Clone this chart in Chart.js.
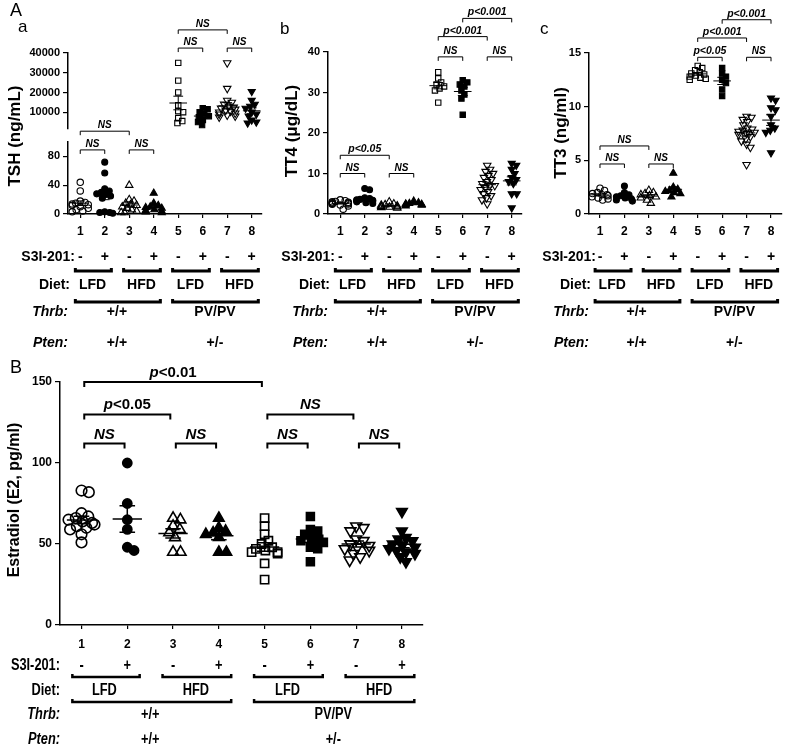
<!DOCTYPE html>
<html>
<head>
<meta charset="utf-8">
<script src="https://cdn.jsdelivr.net/npm/chart.js@4/dist/chart.umd.min.js"></script>
<style>
  body { margin: 0; background: #fff; }
  #fig { position: relative; width: 790px; height: 752px; }
  canvas { position: absolute; }
</style>
</head>
<body>
<div id="fig">
  <canvas id="aBottom" width="270" height="360" style="left:0;top:0"></canvas>
  <canvas id="aTop" width="270" height="140" style="left:0;top:0"></canvas>
  <canvas id="b" width="270" height="360" style="left:260px;top:0"></canvas>
  <canvas id="c" width="270" height="360" style="left:520px;top:0"></canvas>
  <canvas id="B" width="440" height="392" style="left:0;top:360px"></canvas>
</div>
<script>
// ---- data ----
const groups = ['1', '2', '3', '4', '5', '6', '7', '8'];
const s3i = ['-', '+', '-', '+', '-', '+', '-', '+'];
const dietLabels = ['LFD', 'HFD', 'LFD', 'HFD'];
const thrbLabels = ['+/+', 'PV/PV'];
const ptenLabels = ['+/+', '+/-'];

// TSH (ng/mL), groups 1-8
const tsh1 = [44, 32, 18, 16, 15, 14, 13, 12, 10, 8, 6, 4, 3];
const tsh2 = [72, 57, 35, 32, 30, 28, 27, 25, 22, 3, 2, 2, 1];
const tsh3 = [40, 20, 18, 15, 13, 12, 10, 8, 6, 4, 2, 2];
const tsh4 = [29, 15, 12, 10, 9, 8, 6, 5, 4, 3, 2];
const tsh5 = [35000, 26000, 20000, 13500, 10500, 10000, 7000, 5500, 4500];
const tsh6 = [12000, 11500, 10000, 9000, 8000, 7500, 6000, 5000, 3500];
const tsh7 = [35000, 22000, 16000, 15000, 14000, 13000, 12500, 12000, 11500, 11000, 10500, 10000, 9500, 9000, 8500, 8000, 7500];
const tsh8 = [20500, 16000, 14000, 13000, 12000, 10000, 9000, 8000, 6000, 5000, 4500];

// TT4 (ug/dL)
const tt4_1 = [3.5, 3.3, 3.1, 3.0, 2.9, 2.8, 2.7, 2.6, 2.5, 2.4, 2.2, 2.0, 1.2];
const tt4_2 = [6.3, 6.0, 4.0, 3.8, 3.6, 3.5, 3.4, 3.3, 3.2, 3.0, 2.8, 2.6];
const tt4_3 = [3.0, 2.5, 2.3, 2.2, 2.0, 1.9, 1.8, 1.7, 1.6, 1.5];
const tt4_4 = [3.2, 2.8, 2.6, 2.5, 2.4, 2.3, 2.2, 2.0];
const tt4_5 = [35, 33.5, 32.5, 32, 31.5, 31, 30.5, 27.5];
const tt4_6 = [33, 32.5, 32, 31.5, 30.5, 29.5, 28.5, 24.5];
const tt4_7 = [12, 11, 10.5, 10, 9.5, 9, 8.5, 8, 7.5, 7, 7, 6.5, 6, 5.5, 5, 4.5, 4, 3.5, 2.5];
const tt4_8 = [12.5, 12, 11, 10, 9, 8.5, 8, 7.5, 5, 5, 1.5];

// TT3 (ng/ml)
const tt3_1 = [2.4, 2.2, 2.0, 1.9, 1.8, 1.8, 1.7, 1.6, 1.5, 1.4, 1.3];
const tt3_2 = [2.6, 2.0, 1.8, 1.7, 1.6, 1.5, 1.4, 1.3, 1.2];
const tt3_3 = [2.2, 2.0, 1.9, 1.8, 1.7, 1.6, 1.5, 1.3, 1.0];
const tt3_4 = [3.8, 2.5, 2.3, 2.2, 2.1, 2.0, 1.9, 1.6];
const tt3_5 = [13.8, 13.6, 13.4, 13.2, 13.1, 13.0, 12.9, 12.8, 12.7, 12.6, 12.5];
const tt3_6 = [13.6, 13.1, 12.8, 12.5, 12.2, 11.6, 11.0];
const tt3_7 = [9.1, 9.0, 8.8, 8.6, 8.3, 8.0, 7.9, 7.8, 7.7, 7.6, 7.5, 7.4, 7.2, 7.0, 6.8, 6.5, 6.2, 4.6];
const tt3_8 = [10.8, 10.6, 9.9, 9.7, 9.1, 8.3, 8.0, 7.8, 7.6, 5.7];

// Estradiol (E2, pg/ml)
const e2_1 = [83, 82, 69, 67, 66, 65, 64, 63, 62, 61, 60, 59, 56, 51];
const e2_2 = [100, 75, 65, 59, 48, 46];
const e2_3 = [66, 65, 61, 59, 57, 54, 45, 45];
const e2_4 = [66, 60, 58, 57, 56, 54, 45, 45];
const e2_5 = [66, 61, 56, 52, 50, 48, 47, 46, 45, 45, 44, 38, 28];
const e2_6 = [67, 59, 58, 56, 54, 53, 52, 51, 48, 47, 39];
const e2_7 = [61, 60, 58, 53, 52, 50, 49, 48, 47, 46, 44, 42, 40];
const e2_8 = [70, 58, 54, 53, 52, 50, 49, 48, 47, 46, 45, 44, 42, 39];

const tshTopTicks = [10000, 20000, 30000, 40000];
const tshBottomTicks = [0, 20, 40, 60, 80, 100];
const tt4Ticks = [0, 10, 20, 30, 40];
const tt3Ticks = [0, 5, 10, 15];
const e2Ticks = [0, 50, 100, 150];

// [from group, to group, level (axis units), label]
const tshTopBrackets = [[5, 6, 42500, 'NS'], [7, 8, 42500, 'NS'], [5, 7, 51700, 'NS']];
const tshBottomBrackets = [[1, 2, 89, 'NS'], [3, 4, 89, 'NS'], [1, 3, 115, 'NS']];
const tt4Brackets = [[1, 2, 10, 'NS'], [3, 4, 10, 'NS'], [1, 3, 14.5, 'p<0.05'],
  [5, 6, 38.8, 'NS'], [7, 8, 38.8, 'NS'], [5, 7, 43.8, 'p<0.001'], [6, 8, 48.3, 'p<0.001']];
const tt3Brackets = [[1, 2, 4.66, 'NS'], [3, 4, 4.66, 'NS'], [1, 3, 6.34, 'NS'],
  [5, 6, 14.6, 'p<0.05'], [7, 8, 14.6, 'NS'], [5, 7, 16.4, 'p<0.001'], [6, 8, 18.1, 'p<0.001']];
const e2Brackets = [[1, 2, 112, 'NS'], [3, 4, 112, 'NS'], [5, 6, 112, 'NS'], [7, 8, 112, 'NS'],
  [1, 3, 130, 'p<0.05'], [5, 7, 130, 'NS'], [1, 5, 150, 'p<0.01']];

// ---- styles ----
const sans = "'Liberation Sans', Arial, Helvetica, sans-serif";
Chart.defaults.font.family = sans;
Chart.defaults.color = '#000';

const markerStyles = [
  { style: 'circle', filled: false, rot: 0 },
  { style: 'circle', filled: true, rot: 0 },
  { style: 'triangle', filled: false, rot: 0 },
  { style: 'triangle', filled: true, rot: 0 },
  { style: 'rect', filled: false, rot: 0 },
  { style: 'rect', filled: true, rot: 0 },
  { style: 'triangle', filled: false, rot: 180 },
  { style: 'triangle', filled: true, rot: 180 },
];
const smallRadii = { circle: 3.2, circleF: 3.0, triangle: 4.3, triangleF: 4.1, rect: 3.8, rectF: 3.8 };
const bigRadii = { circle: 5.3, circleF: 4.6, triangle: 6.3, triangleF: 6.1, rect: 5.8, rectF: 5.6 };

const dietSpans = [[0.8, 2.27], [2.77, 4.27], [4.77, 6.27], [6.77, 8.27]];
const thrbSpans = [[0.8, 4.27], [4.77, 8.27]];

function makeDatasets(series, groupIdx, radii, lw) {
  return groupIdx.map(g => {
    const m = markerStyles[g - 1];
    const vals = series[g - 1];
    return {
      label: groups[g - 1],
      group: g,
      values: vals,
      data: vals.map(v => ({ x: g, y: v })),
      showLine: false,
      clip: false,
      pointStyle: m.style,
      pointRotation: m.rot,
      pointRadius: radii[m.style + (m.filled ? 'F' : '')],
      pointBorderColor: '#000',
      pointBackgroundColor: m.filled ? '#000' : 'rgba(0,0,0,0)',
      pointBorderWidth: lw,
    };
  });
}

function yAxis(min, max, ticks, width, size) {
  return {
    type: 'linear', min, max,
    afterFit: s => { s.width = width; },
    afterBuildTicks: s => { s.ticks = ticks.map(v => ({ value: v })); },
    ticks: { callback: v => String(v), font: { size, weight: 'bold' }, padding: 3, color: '#000' },
    grid: { drawOnChartArea: false, drawTicks: true, tickLength: 5, color: '#000', lineWidth: 1.2 },
    border: { display: true, color: '#000', width: 1.5 },
  };
}

function xAxis(min, max, height, size, show, pad) {
  return {
    type: 'linear', min, max, display: show,
    afterFit: s => { s.height = height; },
    afterBuildTicks: s => { s.ticks = groups.map((g, i) => ({ value: i + 1 })); },
    ticks: { callback: v => groups[v - 1], font: { size, weight: 'bold' }, padding: pad, color: '#000', autoSkip: false, maxRotation: 0 },
    grid: { drawOnChartArea: false, drawTicks: true, tickLength: 4, color: '#000', lineWidth: 1.2 },
    border: { display: true, color: '#000', width: 1.5 },
  };
}

// draws mean ± SEM, significance brackets, annotation rows, titles
const figPlugin = {
  id: 'fig',
  afterDatasetsDraw(chart, args, o) {
    const ctx = chart.ctx, xs = chart.scales.x, ys = chart.scales.y;
    const X = g => xs.getPixelForValue(g);
    const Y = v => ys.getPixelForValue(v);
    ctx.save();
    ctx.strokeStyle = '#000';
    ctx.fillStyle = '#000';
    ctx.lineCap = 'butt';

    // mean ± SEM
    if (o.stats) {
      ctx.lineWidth = o.stats.lw;
      chart.data.datasets.forEach(ds => {
        const v = ds.values, n = v.length;
        const m = v.reduce((a, b) => a + b, 0) / n;
        const sd = Math.sqrt(v.reduce((a, b) => a + (b - m) ** 2, 0) / (n - 1));
        const se = sd / Math.sqrt(n);
        const g = ds.group;
        ctx.beginPath();
        ctx.moveTo(X(g - o.stats.meanW), Y(m)); ctx.lineTo(X(g + o.stats.meanW), Y(m));
        ctx.moveTo(X(g), Y(m + se)); ctx.lineTo(X(g), Y(m - se));
        ctx.moveTo(X(g - o.stats.capW), Y(m + se)); ctx.lineTo(X(g + o.stats.capW), Y(m + se));
        ctx.moveTo(X(g - o.stats.capW), Y(m - se)); ctx.lineTo(X(g + o.stats.capW), Y(m - se));
        ctx.stroke();
      });
    }

    // significance brackets
    if (o.brackets) {
      const bs = o.bracketStyle;
      o.brackets.forEach(([a, b, at, label]) => {
        const x1 = X(a + bs.inset), x2 = X(b - bs.inset), y = Y(at);
        ctx.lineWidth = bs.lw;
        ctx.beginPath();
        ctx.moveTo(x1, y + bs.drop); ctx.lineTo(x1, y); ctx.lineTo(x2, y); ctx.lineTo(x2, y + bs.drop);
        ctx.stroke();
        const cx = (x1 + x2) / 2, ty = y - bs.gap;
        ctx.textBaseline = 'alphabetic';
        if (label === 'NS') {
          ctx.font = bs.nsFont; ctx.textAlign = 'center';
          ctx.fillText(label, cx, ty);
        } else {
          const rest = label.slice(1);
          ctx.font = bs.pItalic; const w1 = ctx.measureText('p').width;
          ctx.font = bs.pFont; const w2 = ctx.measureText(rest).width;
          const sx = cx - (w1 + w2) / 2;
          ctx.textAlign = 'left';
          ctx.font = bs.pItalic; ctx.fillText('p', sx, ty);
          ctx.font = bs.pFont; ctx.fillText(rest, sx + w1, ty);
        }
      });
    }

    // annotation rows under the axis (sx < 1 squeezes the text horizontally)
    if (o.rows) {
      const r = o.rows, bot = chart.chartArea.bottom, L = chart.chartArea.left;
      const text = (s, x, y, align, font) => {
        ctx.save();
        ctx.translate(x, y);
        ctx.scale(r.sx, 1);
        ctx.font = font; ctx.textAlign = align; ctx.textBaseline = 'middle';
        ctx.fillText(s, 0, 0);
        ctx.restore();
      };
      text('S3I-201:', L + r.lx[0], bot + r.dy.s3i, 'right', r.font);
      text('Diet:', L + r.lx[1], bot + r.dy.diet, 'right', r.font);
      text('Thrb:', L + r.lx[2], bot + r.dy.thrb, 'right', r.italic);
      text('Pten:', L + r.lx[3], bot + r.dy.pten, 'right', r.italic);
      s3i.forEach((s, i) => text(s, X(i + 1), bot + r.dy.s3i, 'center', r.font));
      dietLabels.forEach((s, i) => text(s, X(2 * i + 1.5), bot + r.dy.diet, 'center', r.font));
      thrbLabels.forEach((s, i) => text(s, X(4 * i + 2.5), bot + r.dy.thrb, 'center', r.font));
      ptenLabels.forEach((s, i) => text(s, X(4 * i + 2.5), bot + r.dy.pten, 'center', r.font));
      ctx.lineWidth = r.barW;
      const bar = (a, b, y) => {
        ctx.beginPath();
        ctx.moveTo(X(a), y - r.tick); ctx.lineTo(X(a), y); ctx.lineTo(X(b), y); ctx.lineTo(X(b), y - r.tick);
        ctx.stroke();
      };
      dietSpans.forEach(([a, b]) => bar(a, b, bot + r.dy.dietBar));
      thrbSpans.forEach(([a, b]) => bar(a, b, bot + r.dy.thrbBar));
    }

    // rotated y title
    if (o.yTitle) {
      const t = o.yTitle;
      ctx.save();
      ctx.translate(t.x, t.y);
      ctx.rotate(-Math.PI / 2);
      ctx.font = t.font; ctx.textAlign = 'center'; ctx.textBaseline = 'middle';
      ctx.fillText(t.text, 0, 0);
      ctx.restore();
    }

    // panel letters
    (o.letters || []).forEach(([s, x, y, f]) => {
      ctx.font = f; ctx.textAlign = 'left'; ctx.textBaseline = 'middle';
      ctx.fillText(s, x, y);
    });
    ctx.restore();
  }
};
Chart.register(figPlugin);

// simple deterministic beeswarm: each point takes the free x offset nearest the centre
function swarm(chart, diam, maxOff) {
  const xs = chart.scales.x, ys = chart.scales.y;
  const ppg = xs.getPixelForValue(2) - xs.getPixelForValue(1);
  chart.data.datasets.forEach(ds => {
    const placed = [];
    const order = ds.values.map((v, i) => i).sort((a, b) => ds.values[b] - ds.values[a]);
    order.forEach(i => {
      const py = ys.getPixelForValue(ds.values[i]);
      const near = placed.filter(p => Math.abs(p.y - py) < diam);
      const cands = [0];
      near.forEach(p => {
        const h = Math.sqrt(diam * diam - (p.y - py) ** 2);
        cands.push(p.x + h, p.x - h);
      });
      const ok = cands.filter(c => near.every(p => Math.hypot(p.x - c, p.y - py) >= diam - 1e-6));
      ok.sort((a, b) => Math.abs(a) - Math.abs(b));
      let off = ok.length ? ok[0] : 0;
      off = Math.max(-maxOff, Math.min(maxOff, off));
      placed.push({ x: off, y: py });
      ds.data[i] = { x: ds.group + off / ppg, y: ds.values[i] };
    });
  });
  chart.update('none');
}

function panel(id, opts) {
  const chart = new Chart(document.getElementById(id), {
    type: 'scatter',
    data: { datasets: opts.datasets },
    options: {
      responsive: false, animation: false, devicePixelRatio: 1, events: [],
      layout: { padding: opts.padding },
      plugins: { legend: { display: false }, tooltip: { enabled: false }, fig: opts.fig },
      scales: { x: opts.x, y: opts.y },
    },
  });
  swarm(chart, opts.diam, opts.maxOff);
  return chart;
}

const smallStats = { lw: 1, meanW: 0.36, capW: 0.2 };
const smallBr = { lw: 1, drop: 4, gap: 3, inset: 0, nsFont: `italic bold 10px ${sans}`,
  pFont: `italic bold 10.5px ${sans}`, pItalic: `italic bold 10.5px ${sans}` };
const smallRows = { font: `bold 14px ${sans}`, italic: `italic bold 14px ${sans}`, lx: [7, 2, 0, 0], sx: 1,
  dy: { s3i: 43, dietBar: 57, diet: 71, thrbBar: 88, thrb: 98, pten: 129 }, barW: 3, tick: 3 };

const tshSeries = [tsh1, tsh2, tsh3, tsh4, tsh5, tsh6, tsh7, tsh8];
const tt4Series = [tt4_1, tt4_2, tt4_3, tt4_4, tt4_5, tt4_6, tt4_7, tt4_8];
const tt3Series = [tt3_1, tt3_2, tt3_3, tt3_4, tt3_5, tt3_6, tt3_7, tt3_8];
const e2Series = [e2_1, e2_2, e2_3, e2_4, e2_5, e2_6, e2_7, e2_8];

// panel a, lower segment (0-100)
panel('aBottom', {
  datasets: makeDatasets(tshSeries, [1, 2, 3, 4], smallRadii, 1.1),
  padding: { top: 142, right: 8, bottom: 116, left: 0 },
  x: xAxis(0.5, 8.42, 30, 12, true, 6),
  y: yAxis(0, 100, tshBottomTicks, 68, 11),
  diam: 5, maxOff: 8,
  fig: {
    stats: smallStats, brackets: tshBottomBrackets, bracketStyle: smallBr, rows: smallRows,
    yTitle: { text: 'TSH (ng/mL)', x: 15, y: 136, font: `bold 17px ${sans}` },
    letters: [['A', 10, 11, `18px ${sans}`], ['a', 18, 27, `17px ${sans}`]],
  },
});

// panel a, upper segment
panel('aTop', {
  datasets: makeDatasets(tshSeries, [5, 6, 7, 8], smallRadii, 1.1),
  padding: { top: 53, right: 8, bottom: 11, left: 0 },
  x: xAxis(0.5, 8.42, 0, 12, false, 6),
  y: yAxis(1500, 40000, tshTopTicks, 68, 11),
  diam: 5, maxOff: 8,
  fig: { stats: smallStats, brackets: tshTopBrackets, bracketStyle: smallBr },
});

// panel b
panel('b', {
  datasets: makeDatasets(tt4Series, [1, 2, 3, 4, 5, 6, 7, 8], smallRadii, 1.1),
  padding: { top: 52, right: 8, bottom: 116, left: 0 },
  x: xAxis(0.5, 8.42, 30, 12, true, 6),
  y: yAxis(0, 40, tt4Ticks, 68, 11),
  diam: 5, maxOff: 8,
  fig: {
    stats: smallStats, brackets: tt4Brackets, bracketStyle: smallBr, rows: smallRows,
    yTitle: { text: 'TT4 (\u03bcg/dL)', x: 32, y: 131, font: `bold 17px ${sans}` },
    letters: [['b', 20, 29, `17px ${sans}`]],
  },
});

// panel c
panel('c', {
  datasets: makeDatasets(tt3Series, [1, 2, 3, 4, 5, 6, 7, 8], smallRadii, 1.1),
  padding: { top: 53, right: 8, bottom: 116, left: 0 },
  x: xAxis(0.55, 8.45, 30, 12, true, 6),
  y: yAxis(0, 15, tt3Ticks, 69, 11),
  diam: 5, maxOff: 8,
  fig: {
    stats: smallStats, brackets: tt3Brackets, bracketStyle: smallBr, rows: smallRows,
    yTitle: { text: 'TT3 (ng/ml)', x: 41, y: 133, font: `bold 17px ${sans}` },
    letters: [['c', 20, 29, `17px ${sans}`]],
  },
});

// panel B
panel('B', {
  datasets: makeDatasets(e2Series, [1, 2, 3, 4, 5, 6, 7, 8], bigRadii, 1.6),
  padding: { top: 22, right: 17, bottom: 101, left: 0 },
  x: xAxis(0.53, 8.46, 26, 12, true, 8),
  y: yAxis(0, 150, e2Ticks, 60, 12),
  diam: 7.5, maxOff: 13,
  fig: {
    stats: { lw: 1.5, meanW: 0.32, capW: 0.17 },
    brackets: e2Brackets,
    bracketStyle: { lw: 2, drop: 5, gap: 5, inset: 0.06, nsFont: `italic bold 15px ${sans}`,
      pFont: `bold 15px ${sans}`, pItalic: `italic bold 15px ${sans}` },
    rows: { font: `bold 16px ${sans}`, italic: `italic bold 16px ${sans}`, lx: [0, 0, 0, 0], sx: 0.8,
      dy: { s3i: 41, dietBar: 52, diet: 66, thrbBar: 77, thrb: 90, pten: 115 }, barW: 2.5, tick: 3 },
    yTitle: { text: 'Estradiol (E2, pg/ml)', x: 15, y: 140, font: `bold 16px ${sans}` },
    letters: [['B', 10, 8, `18px ${sans}`]],
  },
});
</script>
</body>
</html>
